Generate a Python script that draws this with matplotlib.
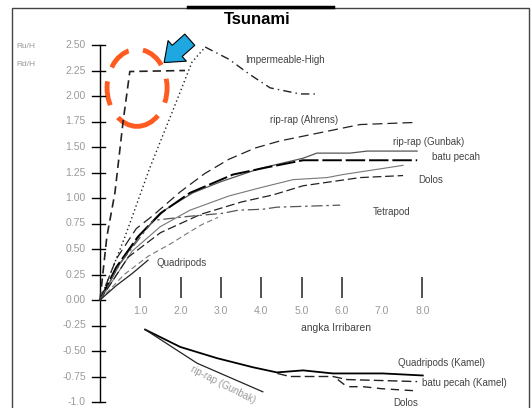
import matplotlib
matplotlib.use("Agg")
import matplotlib.pyplot as plt
from matplotlib.patches import Ellipse, Rectangle

plt.rcParams['font.family'] = ['Liberation Sans', 'DejaVu Sans']

# ---- data (x = Iribarren number, y = Ru/H or Rd/H) ----
y_ticks = [2.5, 2.25, 2.0, 1.75, 1.5, 1.25, 1.0, 0.75, 0.5, 0.25, 0.0, -0.25, -0.5, -0.75, -1.0]
y_tick_labels = ['2.50', '2.25', '2.00', '1.75', '1.50', '1.25', '1.00', '0.75', '0.50',
                 '0.25', '0.00', '-0.25', '-0.50', '-0.75', '-1.0']
x_tick_marks = [1, 2, 3, 4, 5, 6, 8]
x_tick_labels = ['1.0', '2.0', '3.0', '4.0', '5.0', '6.0', '7.0', '8.0']
x_tick_label_pos = [1, 2, 3, 4, 5, 6, 7, 8]

# run-up
steep_x = [0, 0.17, 0.37, 0.57, 0.74, 2.11]
steep_y = [0, 0.62, 1.05, 1.74, 2.24, 2.25]
imp_up_x = [0, 0.62, 1.24, 1.81, 2.28, 2.61]
imp_up_y = [0, 0.62, 1.30, 1.86, 2.33, 2.48]
imp_down_x = [2.61, 3.20, 3.72, 4.22, 4.96, 5.41]
imp_down_y = [2.48, 2.36, 2.21, 2.08, 2.02, 2.02]
ahrens_x = [0, 0.4, 0.9, 1.32, 1.99, 2.6, 3.2, 3.85, 4.47, 5.46, 6.45, 7.77]
ahrens_y = [0, 0.40, 0.70, 0.83, 1.06, 1.24, 1.38, 1.49, 1.56, 1.64, 1.72, 1.74]
gunbak_x = [0, 0.5, 1.0, 1.6, 2.3, 3.0, 3.97, 5.04, 5.38, 6.2, 6.63, 7.87]
gunbak_y = [0, 0.36, 0.64, 0.88, 1.05, 1.16, 1.29, 1.39, 1.44, 1.44, 1.46, 1.46]
pecah_x = [0, 0.4, 0.94, 1.5, 2.23, 3.30, 4.14, 5.04, 6.5, 7.87]
pecah_y = [0, 0.32, 0.62, 0.85, 1.05, 1.23, 1.30, 1.37, 1.37, 1.37]
thin_x = [0, 0.8, 1.5, 2.23, 3.2, 3.97, 4.79, 5.63, 6.03, 7.52]
thin_y = [0, 0.48, 0.72, 0.88, 1.02, 1.10, 1.18, 1.20, 1.23, 1.32]
dolos_x = [0, 0.7, 1.5, 2.5, 3.5, 4.29, 5.04, 6.45, 7.52]
dolos_y = [0, 0.42, 0.66, 0.84, 0.96, 1.03, 1.12, 1.20, 1.22]
tetra_x = [0, 0.5, 1.32, 2.2, 3.05, 3.42, 4.04, 4.39, 5.96]
tetra_y = [0, 0.36, 0.78, 0.82, 0.85, 0.88, 0.89, 0.91, 0.93]
low_x = [0, 0.6, 1.2, 1.79, 2.11, 2.53, 2.93]
low_y = [0, 0.25, 0.43, 0.56, 0.64, 0.74, 0.81]
quad_x = [0, 0.4, 0.8, 1.19]
quad_y = [0, 0.14, 0.26, 0.39]

# run-down
quadk_x = [1.12, 1.99, 2.90, 3.80, 4.39, 5.04, 5.78, 7.02, 8.01]
quadk_y = [-0.29, -0.46, -0.57, -0.66, -0.71, -0.69, -0.72, -0.72, -0.74]
gunbak_rd_x = [1.12, 2.41, 4.04]
gunbak_rd_y = [-0.29, -0.62, -0.90]
pecahk_x = [4.4, 4.71, 5.04, 5.78, 6.13, 7.02, 7.87]
pecahk_y = [-0.72, -0.75, -0.75, -0.75, -0.78, -0.79, -0.80]
dolosk_x = [5.9, 6.13, 6.53, 7.0, 7.82]
dolosk_y = [-0.78, -0.85, -0.85, -0.87, -0.89]

fig = plt.figure(figsize=(5.32, 4.08), dpi=100)
ax = fig.add_axes([0, 0, 1, 1])
ax.set_xlim(-100 / 40.3, 432 / 40.3)
ax.set_ylim((300 - 408) / 102, 300 / 102)
ax.axis('off')

grey = '#9a9a9a'
fs = 7

# frame and title
fig.patches.append(Rectangle((12 / 532, -0.02), 517 / 532, 1.0 - 8 / 408 + 0.02,
                             transform=fig.transFigure, fill=False, lw=1.0, ec='#444444'))
fig.lines.append(plt.Line2D([188 / 532, 333 / 532], [1 - 7 / 408, 1 - 7 / 408],
                            transform=fig.transFigure, color='black', lw=2.5))
fig.text(257 / 532, 1 - 19 / 408, 'Tsunami', ha='center', va='center',
         fontsize=12, fontweight='bold')
fig.text(16 / 532, 1 - 46 / 408, 'Ru/H', fontsize=6, color=grey, va='center')
fig.text(16 / 532, 1 - 65 / 408, 'Rd/H', fontsize=6, color=grey, va='center')

# y axis
ax.plot([0, 0], [-1.0, 2.5], color='black', lw=1.0)
for v, lab in zip(y_ticks, y_tick_labels):
    ax.plot([-0.2, 0.12], [v, v], color='black', lw=1.0)
    ax.text(-0.35, v, lab, ha='right', va='center', fontsize=7.5, color=grey)

# x ticks (drawn above the zero line)
ax.vlines(x_tick_marks, 0.02, 0.225, color='#333333', lw=1.2)
for v, lab in zip(x_tick_label_pos, x_tick_labels):
    ax.text(v, -0.11, lab, ha='center', va='center', fontsize=7.5, color=grey)
ax.text(5.86, -0.27, 'angka Irribaren', ha='center', va='center', fontsize=7.5, color='#444444')

# run-up curves
ax.plot(steep_x, steep_y, color='#222222', lw=1.2, ls=(0, (5, 3)))
ax.plot(imp_up_x, imp_up_y, color='#222222', lw=1.0, ls=(0, (1, 2)))
ax.plot(imp_down_x, imp_down_y, color='#222222', lw=1.0, ls=(0, (6, 3, 1, 3)))
ax.plot(ahrens_x, ahrens_y, color='#222222', lw=0.9, ls=(0, (8, 4)))
ax.plot(gunbak_x, gunbak_y, color='#555555', lw=0.9)
ax.plot(pecah_x, pecah_y, color='black', lw=1.4, ls=(0, (10, 2)))
ax.plot(thin_x, thin_y, color='#777777', lw=0.8)
ax.plot(dolos_x, dolos_y, color='#222222', lw=0.9, ls=(0, (7, 3)))
ax.plot(tetra_x, tetra_y, color='#555555', lw=0.9, ls=(0, (9, 3, 2, 3)))
ax.plot(low_x, low_y, color='#777777', lw=0.8, ls=(0, (5, 3)))
ax.plot(quad_x, quad_y, color='#222222', lw=0.9)

# run-down curves
ax.plot(quadk_x, quadk_y, color='black', lw=1.3)
ax.plot(gunbak_rd_x, gunbak_rd_y, color='#222222', lw=0.9)
ax.plot(pecahk_x, pecahk_y, color='#222222', lw=1.0, ls=(0, (7, 3)))
ax.plot(dolosk_x, dolosk_y, color='#222222', lw=1.0, ls=(0, (6, 4)))

# curve labels
lab_kw = dict(fontsize=fs, color='#444444', va='center', ha='left')
ax.text(3.6, 2.35, 'Impermeable-High', **lab_kw)
ax.text(4.22, 1.76, 'rip-rap (Ahrens)', **lab_kw)
ax.text(7.27, 1.55, 'rip-rap (Gunbak)', **lab_kw)
ax.text(8.24, 1.40, 'batu pecah', **lab_kw)
ax.text(7.89, 1.18, 'Dolos', **lab_kw)
ax.text(6.77, 0.86, 'Tetrapod', **lab_kw)
ax.text(1.41, 0.36, 'Quadripods', **lab_kw)
ax.text(7.39, -0.62, 'Quadripods (Kamel)', **lab_kw)
ax.text(7.99, -0.81, 'batu pecah (Kamel)', **lab_kw)
ax.text(7.27, -1.01, 'Dolos', **lab_kw)
ax.text(3.05, -0.83, 'rip-rap (Gunbak)', fontsize=fs, color=grey, ha='center', va='center',
        rotation=-27)

# highlight: red dashed circle and blue arrow
ax.add_patch(Ellipse((0.92, 2.08), 1.49, 0.755, fill=False, ec='#ff5a1f', lw=3.5,
                     ls=(0, (5, 3))))
ax.annotate('', xy=(1.54, 2.31), xytext=(2.28, 2.57),
            arrowprops=dict(arrowstyle='simple,head_length=0.7,head_width=1.1,tail_width=0.6',
                            fc='#1ea7e1', ec='black', lw=0.8, mutation_scale=18))

fig.savefig('out.png', dpi=100)
